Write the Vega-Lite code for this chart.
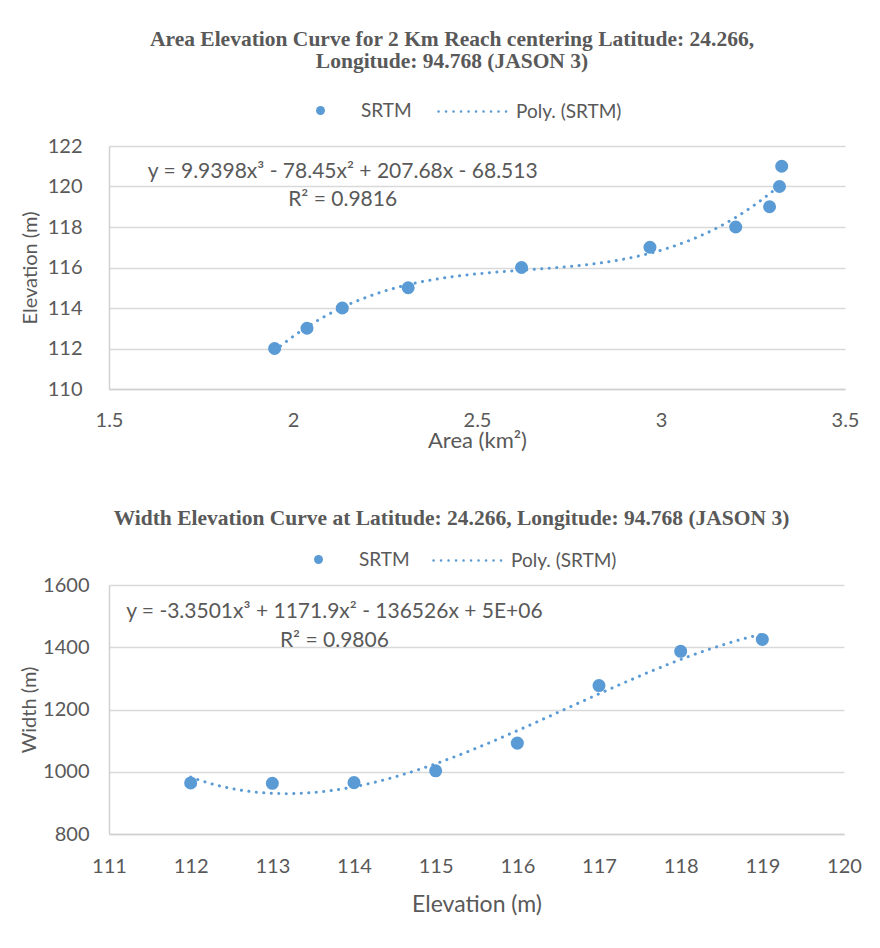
{
  "$schema": "https://vega.github.io/schema/vega-lite/v6.json",
  "background": "white",
  "padding": {"left": 19, "top": 28, "right": 0, "bottom": 0},
  "autosize": {"type": "pad"},
  "columns": 1,
  "spacing": 56,
  "datasets": {
    "area": [
      {"Area": 1.950, "Elevation": 112},
      {"Area": 2.038, "Elevation": 113},
      {"Area": 2.134, "Elevation": 114},
      {"Area": 2.313, "Elevation": 115},
      {"Area": 2.621, "Elevation": 116},
      {"Area": 2.970, "Elevation": 117},
      {"Area": 3.203, "Elevation": 118},
      {"Area": 3.295, "Elevation": 119},
      {"Area": 3.322, "Elevation": 120},
      {"Area": 3.328, "Elevation": 121}
    ],
    "width": [
      {"Elevation": 112, "Width": 964},
      {"Elevation": 113, "Width": 963},
      {"Elevation": 114, "Width": 965},
      {"Elevation": 115, "Width": 1003},
      {"Elevation": 116, "Width": 1092},
      {"Elevation": 117, "Width": 1277},
      {"Elevation": 118, "Width": 1387},
      {"Elevation": 119, "Width": 1425}
    ]
  },
  "concat": [
    {
      "width": 736,
      "height": 243,
      "title": {
        "text": ["Area Elevation Curve for 2 Km Reach centering Latitude: 24.266,", "Longitude: 94.768  (JASON 3)"],
        "font": "Liberation Serif",
        "fontWeight": "bold",
        "fontSize": 21.5,
        "lineHeight": 22,
        "color": "#595959",
        "anchor": "middle",
        "dx": -25,
        "offset": 4
      },
      "data": {"name": "area"},
      "layer": [
        {
          "mark": {"type": "circle", "size": 170, "opacity": 1},
          "encoding": {
            "x": {"field": "Area", "type": "quantitative",
              "scale": {"domain": [1.5, 3.5], "nice": false, "zero": false},
              "axis": {"title": "Area (km²)", "values": [1.5, 2, 2.5, 3, 3.5], "format": "~g", "labelFlush": false, "labelFontSize": 20, "labelPadding": 21, "titleFontSize": 22, "titlePadding": 0}},
            "y": {"field": "Elevation", "type": "quantitative",
              "scale": {"domain": [110, 122], "nice": false, "zero": false},
              "axis": {"title": "Elevation (m)", "values": [110, 112, 114, 116, 118, 120, 122], "format": "d", "labelFontSize": 20, "labelPadding": 27, "titleFontSize": 20, "titlePadding": 7}},
            "color": {"datum": "SRTM", "type": "nominal",
              "scale": {"domain": ["SRTM"], "range": ["#5b9bd5"]},
              "legend": {"title": null, "orient": "none", "legendX": 202, "legendY": -45, "symbolType": "circle", "symbolSize": 80, "labelOffset": 31}}
          }
        },
        {
          "mark": {"type": "line", "color": "#5b9bd5", "strokeWidth": 3, "strokeCap": "round"},
          "transform": [{"regression": "Elevation", "on": "Area", "method": "poly", "order": 3}],
          "encoding": {
            "x": {"field": "Area", "type": "quantitative"},
            "y": {"field": "Elevation", "type": "quantitative"},
            "strokeDash": {"datum": "Poly. (SRTM)", "type": "nominal",
              "scale": {"domain": ["Poly. (SRTM)"], "range": [[0.1, 7.4]]},
              "legend": {"title": null, "orient": "none", "legendX": 328, "legendY": -70, "symbolType": "stroke", "symbolSize": 4624, "symbolStrokeColor": "#5b9bd5", "symbolStrokeWidth": 2.5, "labelOffset": 8,
                "encode": {"symbols": {"update": {"strokeCap": {"value": "round"}, "strokeDash": {"value": [0.1, 8.4]}}}}}}
          }
        },
        {
          "data": {"values": [{}]},
          "mark": {"type": "text", "text": "y = 9.9398x³ - 78.45x² + 207.68x - 68.513", "font": "Lato", "fontSize": 21, "color": "#595959"},
          "encoding": {
            "x": {"datum": 2.135, "type": "quantitative"},
            "y": {"datum": 120.72, "type": "quantitative"}
          }
        },
        {
          "data": {"values": [{}]},
          "mark": {"type": "text", "text": "R² = 0.9816", "font": "Lato", "fontSize": 21, "color": "#595959"},
          "encoding": {
            "x": {"datum": 2.135, "type": "quantitative"},
            "y": {"datum": 119.33, "type": "quantitative"}
          }
        }
      ]
    },
    {
      "width": 735,
      "height": 249,
      "title": {
        "text": "Width Elevation Curve at Latitude: 24.266, Longitude: 94.768  (JASON 3)",
        "font": "Liberation Serif",
        "fontWeight": "bold",
        "fontSize": 21.5,
        "color": "#595959",
        "anchor": "middle",
        "dx": -25,
        "offset": -4
      },
      "data": {"name": "width"},
      "layer": [
        {
          "mark": {"type": "circle", "size": 170, "opacity": 1},
          "encoding": {
            "x": {"field": "Elevation", "type": "quantitative",
              "scale": {"domain": [111, 120], "nice": false, "zero": false},
              "axis": {"title": "Elevation (m)", "values": [111, 112, 113, 114, 115, 116, 117, 118, 119, 120], "format": "d", "labelFlush": false, "labelFontSize": 20, "labelPadding": 22, "titleFontSize": 23, "titlePadding": 17}},
            "y": {"field": "Width", "type": "quantitative",
              "scale": {"domain": [800, 1600], "nice": false, "zero": false},
              "axis": {"title": "Width (m)", "values": [800, 1000, 1200, 1400, 1600], "format": "d", "labelFontSize": 20, "labelPadding": 20, "titleFontSize": 20, "titlePadding": 3}},
            "color": {"datum": "SRTM", "type": "nominal",
              "scale": {"domain": ["SRTM"], "range": ["#5b9bd5"]},
              "legend": {"title": null, "orient": "none", "legendX": 200, "legendY": -35, "symbolType": "circle", "symbolSize": 80, "labelOffset": 31}}
          }
        },
        {
          "mark": {"type": "line", "color": "#5b9bd5", "strokeWidth": 3, "strokeCap": "round"},
          "transform": [{"regression": "Width", "on": "Elevation", "method": "poly", "order": 3}],
          "encoding": {
            "x": {"field": "Elevation", "type": "quantitative"},
            "y": {"field": "Width", "type": "quantitative"},
            "strokeDash": {"datum": "Poly. (SRTM)", "type": "nominal",
              "scale": {"domain": ["Poly. (SRTM)"], "range": [[0.1, 7.4]]},
              "legend": {"title": null, "orient": "none", "legendX": 323, "legendY": -60, "symbolType": "stroke", "symbolSize": 4624, "symbolStrokeColor": "#5b9bd5", "symbolStrokeWidth": 2.5, "labelOffset": 8,
                "encode": {"symbols": {"update": {"strokeCap": {"value": "round"}, "strokeDash": {"value": [0.1, 8.4]}}}}}}
          }
        },
        {
          "data": {"values": [{}]},
          "mark": {"type": "text", "text": "y = -3.3501x³ + 1171.9x² - 136526x + 5E+06", "font": "Lato", "fontSize": 21, "color": "#595959"},
          "encoding": {
            "x": {"datum": 113.76, "type": "quantitative"},
            "y": {"datum": 1513, "type": "quantitative"}
          }
        },
        {
          "data": {"values": [{}]},
          "mark": {"type": "text", "text": "R² = 0.9806", "font": "Lato", "fontSize": 21, "color": "#595959"},
          "encoding": {
            "x": {"datum": 113.76, "type": "quantitative"},
            "y": {"datum": 1420, "type": "quantitative"}
          }
        }
      ]
    }
  ],
  "resolve": {"scale": {"color": "independent", "strokeDash": "independent"}},
  "config": {
    "font": "Lato",
    "view": {"stroke": null},
    "axis": {
      "labelFont": "Lato",
      "labelColor": "#595959",
      "titleFont": "Lato",
      "titleColor": "#595959",
      "titleFontWeight": "normal",
      "gridColor": "#d9d9d9",
      "gridWidth": 1.5,
      "domainColor": "#d0d0d0",
      "domainWidth": 1.5,
      "ticks": false
    },
    "axisX": {"grid": false},
    "axisY": {"grid": true},
    "legend": {
      "labelFont": "Lato",
      "labelFontSize": 19,
      "labelColor": "#595959",
      "padding": 0
    }
  }
}
